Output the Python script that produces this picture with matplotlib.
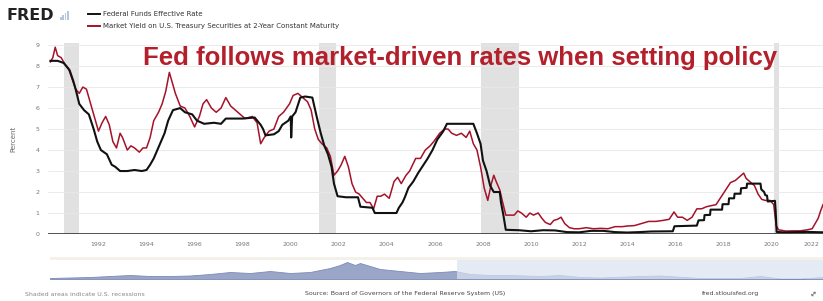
import matplotlib.pyplot as plt
from matplotlib.patches import Rectangle

# Federal Funds Effective Rate (decimal year, percent)
ff_years = [1990.0, 1990.3, 1990.55, 1990.8, 1990.95, 1991.05, 1991.2, 1991.4, 1991.6, 1991.8,
            1991.95, 1992.1, 1992.35, 1992.55, 1992.7, 1992.9, 1993.2, 1993.5, 1993.8, 1994.0,
            1994.15, 1994.3, 1994.45, 1994.6, 1994.75, 1994.9, 1995.1, 1995.4, 1995.6, 1995.9,
            1996.1, 1996.4, 1996.8, 1997.1, 1997.3, 1997.7, 1998.0, 1998.5, 1998.75, 1998.85,
            1998.95, 1999.3, 1999.5, 1999.65, 1999.9, 2000.0, 2000.02, 2000.06, 2000.2, 2000.4,
            2000.6, 2000.9, 2001.0, 2001.1, 2001.25, 2001.4, 2001.55, 2001.7, 2001.8, 2001.95,
            2002.3, 2002.8, 2002.9, 2003.4, 2003.5, 2004.4, 2004.5, 2004.65, 2004.75, 2004.9,
            2005.1, 2005.3, 2005.5, 2005.7, 2005.9, 2006.1, 2006.35, 2006.5, 2007.6, 2007.75,
            2007.9, 2008.0, 2008.15, 2008.3, 2008.45, 2008.7, 2008.75, 2008.85, 2008.95, 2009.5,
            2010.0, 2010.5, 2011.0, 2011.5, 2012.0, 2012.5, 2013.0, 2013.5, 2014.0, 2014.5,
            2015.0, 2015.9, 2015.97, 2016.9, 2016.97, 2017.2, 2017.22, 2017.45, 2017.47, 2017.95,
            2017.97, 2018.22, 2018.24, 2018.45, 2018.47, 2018.72, 2018.74, 2018.97, 2018.99, 2019.55,
            2019.58, 2019.7, 2019.75, 2019.82, 2019.85, 2020.15, 2020.18, 2020.22, 2020.5, 2021.0,
            2021.5, 2022.15]
ff_rate = [8.25, 8.25, 8.15, 7.8, 7.3, 6.9, 6.2, 5.9, 5.7, 5.0,
           4.4, 4.0, 3.8, 3.3, 3.2, 3.0, 3.0, 3.05, 3.0, 3.05,
           3.3, 3.6, 4.0, 4.4, 4.8, 5.4, 5.9, 6.0, 5.8, 5.7,
           5.4, 5.25, 5.3, 5.25, 5.5, 5.5, 5.5, 5.55, 5.2, 5.0,
           4.7, 4.75, 4.9, 5.2, 5.4, 5.6, 4.6, 5.6, 5.8, 6.5,
           6.55, 6.5, 6.0, 5.5, 4.8, 4.2, 3.8, 3.2, 2.4, 1.8,
           1.75, 1.75, 1.3, 1.25, 1.0, 1.0, 1.25, 1.5, 1.75, 2.2,
           2.5, 2.9, 3.25, 3.6, 4.0, 4.5, 4.9, 5.25, 5.25, 4.8,
           4.3, 3.5, 3.0, 2.3, 2.0, 2.0, 1.5, 0.9, 0.2, 0.18,
           0.13, 0.18, 0.17, 0.09, 0.08, 0.15, 0.15, 0.09, 0.07, 0.09,
           0.12, 0.13, 0.37, 0.40, 0.65, 0.66, 0.9, 0.91, 1.16, 1.16,
           1.42, 1.42, 1.70, 1.70, 1.92, 1.92, 2.18, 2.2, 2.40, 2.40,
           2.13, 2.0, 1.85, 1.83, 1.55, 1.58, 1.1, 0.1, 0.08, 0.09,
           0.10, 0.08]

# Market Yield on 2-Year Treasury (decimal year, percent)
t2_years = [1990.0, 1990.1, 1990.2, 1990.3, 1990.45, 1990.6, 1990.75, 1990.9, 1991.05, 1991.2,
            1991.35, 1991.5, 1991.7, 1991.85, 1992.0, 1992.15, 1992.3, 1992.45, 1992.6, 1992.75,
            1992.9, 1993.0, 1993.2, 1993.35, 1993.5, 1993.7, 1993.85, 1994.0, 1994.15, 1994.3,
            1994.5, 1994.65, 1994.8, 1994.95, 1995.05, 1995.2, 1995.4, 1995.6, 1995.8, 1996.0,
            1996.2, 1996.35, 1996.5, 1996.7, 1996.9, 1997.1, 1997.3, 1997.5, 1997.7, 1997.9,
            1998.1, 1998.4, 1998.6, 1998.75, 1998.9, 1999.1, 1999.3, 1999.5, 1999.7, 1999.95,
            2000.1, 2000.3, 2000.5, 2000.7, 2000.85, 2001.0, 2001.15, 2001.3, 2001.5, 2001.65,
            2001.8, 2001.95, 2002.1, 2002.25, 2002.4, 2002.55, 2002.7, 2002.85, 2003.0, 2003.15,
            2003.3, 2003.45, 2003.6, 2003.75, 2003.9, 2004.1, 2004.3, 2004.45, 2004.6, 2004.8,
            2004.95, 2005.2, 2005.4, 2005.6, 2005.8, 2005.95, 2006.2, 2006.4, 2006.55, 2006.7,
            2006.9, 2007.1, 2007.3, 2007.45, 2007.6, 2007.75, 2007.9, 2008.05, 2008.2, 2008.35,
            2008.45, 2008.55, 2008.7, 2008.8, 2008.95, 2009.1, 2009.3, 2009.45, 2009.6, 2009.8,
            2009.95, 2010.1, 2010.3, 2010.45, 2010.6, 2010.8, 2010.95, 2011.1, 2011.25, 2011.4,
            2011.6, 2011.8, 2012.0, 2012.3, 2012.6, 2012.9, 2013.2, 2013.5, 2013.8, 2014.0,
            2014.3, 2014.6, 2014.9, 2015.2, 2015.5, 2015.75, 2015.95, 2016.1, 2016.3, 2016.5,
            2016.7, 2016.9, 2017.1, 2017.3, 2017.5, 2017.7, 2017.9, 2018.1, 2018.3, 2018.5,
            2018.7, 2018.85, 2018.95, 2019.1, 2019.3, 2019.45, 2019.6, 2019.75, 2019.95, 2020.1,
            2020.2, 2020.3, 2020.6, 2020.9, 2021.2, 2021.5, 2021.7, 2021.85, 2021.95, 2022.05,
            2022.15]
t2_rate = [8.2, 8.4, 8.9, 8.5, 8.4, 8.1, 7.9, 7.4, 6.9, 6.7,
           7.0, 6.9, 6.1, 5.5, 4.9, 5.3, 5.6, 5.2, 4.4, 4.1,
           4.8, 4.6, 4.0, 4.2, 4.1, 3.9, 4.1, 4.1, 4.6, 5.4,
           5.8, 6.2, 6.8, 7.7, 7.3, 6.7, 6.1, 6.0, 5.6, 5.1,
           5.6, 6.2, 6.4, 6.0, 5.8, 6.0, 6.5, 6.1, 5.9, 5.7,
           5.5, 5.6, 5.3, 4.3, 4.6, 4.9, 5.0, 5.6, 5.8, 6.2,
           6.6, 6.7, 6.5, 6.3, 5.9, 5.0, 4.5, 4.3, 4.1, 3.7,
           2.8, 3.0, 3.3, 3.7, 3.2, 2.4, 2.0, 1.9, 1.7, 1.5,
           1.5, 1.2, 1.8, 1.8, 1.9, 1.7, 2.5, 2.7, 2.4, 2.8,
           3.0, 3.6, 3.6, 4.0, 4.2, 4.4, 4.8, 5.0, 5.0, 4.8,
           4.7, 4.8, 4.6, 4.9, 4.3, 4.0, 3.2, 2.2, 1.6, 2.4,
           2.8, 2.5, 2.1, 1.6, 0.9, 0.9, 0.9, 1.1, 1.0, 0.8,
           1.0, 0.9, 1.0, 0.75, 0.55, 0.45, 0.65, 0.7, 0.8, 0.5,
           0.3, 0.25, 0.25, 0.3, 0.25, 0.27, 0.25, 0.35, 0.35, 0.38,
           0.4, 0.5, 0.6, 0.6, 0.65, 0.7, 1.05, 0.8, 0.8, 0.65,
           0.8, 1.2, 1.2, 1.3, 1.35, 1.4, 1.75, 2.1, 2.45, 2.55,
           2.75, 2.9, 2.65, 2.5, 2.3, 1.9, 1.65, 1.6, 1.6, 1.4,
           0.4, 0.2, 0.14, 0.15, 0.15, 0.2, 0.25, 0.55, 0.75, 1.1,
           1.4]

recessions = [(1990.55, 1991.2), (2001.17, 2001.9), (2007.92, 2009.5), (2020.1, 2020.3)]
x_ticks = list(range(1992, 2023, 2))
y_ticks = list(range(0, 10))

# overview strip at the bottom (relative heights)
nav_x = [0, 20, 40, 60, 80, 100, 120, 140, 160, 180, 200, 220, 240, 260, 280, 290, 297, 305,
         310, 320, 330, 350, 370, 390, 405, 420, 440, 460, 490, 510, 530, 550, 590, 610, 650,
         690, 710, 730, 750, 773]
nav_y = [1, 1.5, 2, 3, 4, 3, 3, 3.5, 5, 7, 6, 8, 6, 7, 11, 14, 17, 14, 16, 13, 10, 8, 6, 7,
         8, 5, 4, 4, 3, 4, 2, 1.5, 3, 3.5, 1, 1, 3, 0.5, 0.5, 2]

fig = plt.figure(figsize=(8.23, 3.01), dpi=100)
fig.patch.set_facecolor('white')

ax = fig.add_axes([48 / 823, 67 / 301, 1 - 48 / 823, 191 / 301])
for a, b in recessions:
    ax.axvspan(a, b, color='#e1e1e1', lw=0, zorder=0)
for t in y_ticks[1:]:
    ax.axhline(t, color='#e8e8e8', lw=0.6, zorder=0.5)
ax.axhline(0, color='#333333', lw=1.2, zorder=3)

ax.plot(t2_years, t2_rate, color='#a5122a', lw=1.1, zorder=2)
ax.plot(ff_years, ff_rate, color='#111111', lw=1.5, zorder=2.5)

ax.set_xlim(1989.9, 2022.15)
ax.set_ylim(0, 9.1)
ax.set_xticks(x_ticks)
ax.set_yticks(y_ticks)
ax.tick_params(length=0, labelsize=4.5, labelcolor='#777777', pad=6)
ax.get_xticklabels()[-1].set_horizontalalignment('right')
for s in ax.spines.values():
    s.set_visible(False)
ax.set_ylabel('Percent', fontsize=5, color='#666666', labelpad=14)

fig.text(460 / 823, 1 - 58 / 301, 'Fed follows market-driven rates when setting policy',
         ha='center', va='center', fontsize=18.5, fontweight='bold', color='#b3202b',
         family='Liberation Sans', zorder=5)

# header
fig.text(7 / 823, 1 - 15 / 301, 'FRED', fontsize=11.5, fontweight='bold', color='#222222',
         va='center', ha='left')
for i, h in enumerate([3, 5, 7, 9]):
    fig.patches.append(Rectangle((60 / 823 + i * 2.3 / 823, 1 - 20 / 301), 1.6 / 823, h / 301,
                                 transform=fig.transFigure, color='#b8c4d8', lw=0))
fig.lines.append(plt.Line2D([88 / 823, 100 / 823], [1 - 14 / 301] * 2, color='#111111', lw=1.4,
                            transform=fig.transFigure))
fig.lines.append(plt.Line2D([88 / 823, 100 / 823], [1 - 26 / 301] * 2, color='#a5122a', lw=1.4,
                            transform=fig.transFigure))
fig.text(103 / 823, 1 - 14 / 301, 'Federal Funds Effective Rate', fontsize=5, color='#333333',
         va='center')
fig.text(103 / 823, 1 - 26 / 301,
         'Market Yield on U.S. Treasury Securities at 2-Year Constant Maturity', fontsize=5,
         color='#333333', va='center')

# overview strip
nav = fig.add_axes([50 / 823, 22 / 301, 1 - 50 / 823, 22 / 301])
nav.fill_between(nav_x, 0, nav_y, color='#9aa6c8', lw=0.6, edgecolor='#7d8bb5')
nav.axvspan(407, 773, color='#dbe3f2', alpha=0.7, lw=0)
nav.axhspan(19, 22, color='#f3f1ea', lw=0)
nav.set_xlim(0, 773)
nav.set_ylim(0, 22)
nav.axis('off')

# footer
fig.text(25 / 823, 7 / 301, 'Shaded areas indicate U.S. recessions', fontsize=4.5,
         color='#888888', va='center')
fig.text(305 / 823, 7 / 301, 'Source: Board of Governors of the Federal Reserve System (US)',
         fontsize=4.5, color='#444444', va='center')
fig.text(702 / 823, 7 / 301, 'fred.stlouisfed.org', fontsize=4.5, color='#444444', va='center')
fig.text(814 / 823, 7 / 301, '\u2194', fontsize=5.5, color='#666666', va='center', ha='center',
         rotation=45)

fig.savefig('out.png', dpi=100)
